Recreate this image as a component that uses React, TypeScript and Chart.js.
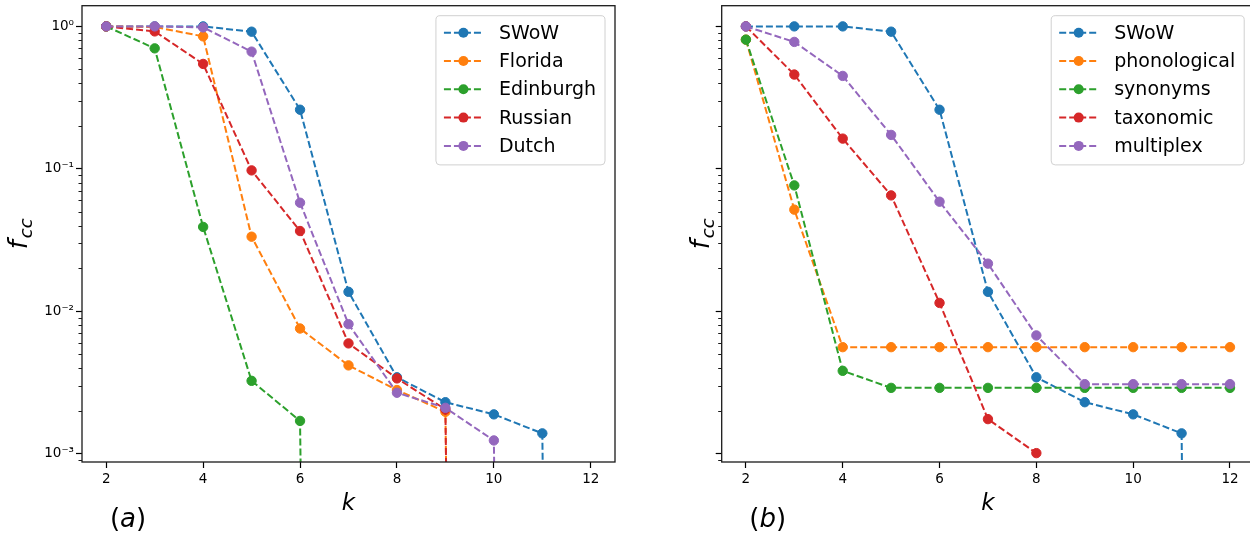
import React, { useEffect, useRef } from "react";
import { Chart, registerables } from "chart.js";

Chart.register(...registerables);

// ---------- data ----------
const K_VALUES = [2, 3, 4, 5, 6, 7, 8, 9, 10, 11, 12];
const X_TICKS = [2, 4, 6, 8, 10, 12];
const Y_DECADES = [0.001, 0.01, 0.1, 1];
const Y_DECADE_LABELS = ["10⁻³", "10⁻²", "10⁻¹", "10⁰"];

// 0 = f_cc dropped to zero (falls off the log axis); null = no point
const SWOW = [1.0, 1.0, 1.0, 0.918, 0.26, 0.0137, 0.00344, 0.0023, 0.00189, 0.00139, 0];
const FLORIDA = [1.0, 0.99, 0.851, 0.0334, 0.00757, 0.00417, 0.0028, 0.00197, 0, null, null];
const EDINBURGH = [1.0, 0.701, 0.0391, 0.00325, 0.0017, 0, null, null, null, null, null];
const RUSSIAN = [1.0, 0.922, 0.545, 0.0975, 0.0366, 0.00595, 0.00338, 0.00205, 0, null, null];
const DUTCH = [1.0, 1.0, 0.984, 0.665, 0.0578, 0.00812, 0.00268, 0.0021, 0.00124, 0, null];

const PHONOLOGICAL = [0.807, 0.0517, 0.0056, 0.0056, 0.0056, 0.0056, 0.0056, 0.0056, 0.0056, 0.0056, 0.0056];
const SYNONYMS = [0.807, 0.0765, 0.00382, 0.0029, 0.0029, 0.0029, 0.0029, 0.0029, 0.0029, 0.0029, 0.0029];
const TAXONOMIC = [1.0, 0.459, 0.163, 0.0651, 0.01145, 0.00175, 0.00101, null, null, null, null];
const MULTIPLEX = [1.0, 0.778, 0.449, 0.173, 0.0588, 0.0216, 0.00677, 0.00308, 0.00308, 0.00308, 0.00308];

const LABELS_A = ["SWoW", "Florida", "Edinburgh", "Russian", "Dutch"];
const LABELS_B = ["SWoW", "phonological", "synonyms", "taxonomic", "multiplex"];
const COLORS = ["#1f77b4", "#ff7f0e", "#2ca02c", "#d62728", "#9467bd"];

// ---------- style ----------
const FONT = "'DejaVu Sans', 'Liberation Sans', sans-serif";
const ZERO_FLOOR = 1e-30;
const Y_MIN = 0.000875;
const Y_MAX = 1.397;
const X_MIN = 1.5;
const X_MAX = 12.5;
const DASH = [7, 3];

type PanelCfg = {
  labels: string[];
  series: (number | null)[][];
  tag: string;
  showYLabels: boolean;
  left: number;
  width: number;
  yAxisWidth: number;
  padRight: number;
  ylabelX: number;
};

const PANEL_A: PanelCfg = {
  labels: LABELS_A,
  series: [SWOW, FLORIDA, EDINBURGH, RUSSIAN, DUTCH],
  tag: "a",
  showYLabels: true,
  left: 0,
  width: 625,
  yAxisWidth: 82,
  padRight: 10,
  ylabelX: 27,
};

const PANEL_B: PanelCfg = {
  labels: LABELS_B,
  series: [SWOW, PHONOLOGICAL, SYNONYMS, TAXONOMIC, MULTIPLEX],
  tag: "b",
  showYLabels: false,
  left: 625,
  width: 640,
  yAxisWidth: 96.7,
  padRight: 10.8,
  ylabelX: 84,
};

function isDecade(v: number | undefined): boolean {
  if (v === undefined || v <= 0) return false;
  const l = Math.log10(v);
  return Math.abs(l - Math.round(l)) < 1e-9;
}

function buildLogTicks(min: number, max: number) {
  const out: { value: number; major: boolean }[] = [];
  for (let e = -5; e <= 1; e++) {
    for (let m = 1; m <= 9; m++) {
      const v = m * Math.pow(10, e);
      if (v >= min && v <= max) out.push({ value: v, major: m === 1 });
    }
  }
  return out;
}

function decadeLabel(v: number): string {
  for (let i = 0; i < Y_DECADES.length; i++) {
    if (Math.abs(Math.log10(v) - Math.log10(Y_DECADES[i])) < 1e-9) return Y_DECADE_LABELS[i];
  }
  return "";
}

function makeDecorPlugin(cfg: PanelCfg) {
  return {
    id: "panelDecor" + cfg.tag,
    afterDraw(chart: any) {
      const ctx: CanvasRenderingContext2D = chart.ctx;
      const area = chart.chartArea;
      const yScale = chart.scales.y;
      ctx.save();

      // minor y ticks
      ctx.strokeStyle = "#000";
      ctx.lineWidth = 0.9;
      for (const t of yScale.ticks) {
        if (isDecade(t.value)) continue;
        const y = Math.round(yScale.getPixelForValue(t.value)) + 0.5;
        ctx.beginPath();
        ctx.moveTo(area.left - 3.5, y);
        ctx.lineTo(area.left, y);
        ctx.stroke();
      }

      // frame
      ctx.strokeStyle = "#1a1a1a";
      ctx.lineWidth = 1.3;
      ctx.strokeRect(area.left, area.top, area.right - area.left, area.bottom - area.top);

      // x title "k"
      ctx.fillStyle = "#000";
      ctx.font = `italic 23px ${FONT}`;
      ctx.textAlign = "center";
      ctx.textBaseline = "alphabetic";
      ctx.fillText("k", (area.left + area.right) / 2, 510);

      // y title f_cc
      ctx.save();
      ctx.translate(cfg.ylabelX, (area.top + area.bottom) / 2);
      ctx.rotate(-Math.PI / 2);
      ctx.textAlign = "left";
      ctx.font = `italic 26px ${FONT}`;
      const fW = ctx.measureText("f").width;
      ctx.font = `italic 18px ${FONT}`;
      const ccW = ctx.measureText("cc").width;
      const total = fW + 2 + ccW;
      const u0 = -total / 2;
      ctx.font = `italic 26px ${FONT}`;
      ctx.fillText("f", u0, 0);
      ctx.font = `italic 18px ${FONT}`;
      ctx.fillText("cc", u0 + fW + 2, 5);
      ctx.restore();

      // panel tag "(a)"
      ctx.textAlign = "left";
      ctx.font = `26px ${FONT}`;
      const pW = ctx.measureText("(").width;
      const cpW = ctx.measureText(")").width;
      ctx.font = `italic 26px ${FONT}`;
      const tW = ctx.measureText(cfg.tag).width;
      const cx = area.left + 46;
      let x = cx - (pW + tW + cpW) / 2;
      ctx.font = `26px ${FONT}`;
      ctx.fillText("(", x, 527);
      x += pW;
      ctx.font = `italic 26px ${FONT}`;
      ctx.fillText(cfg.tag, x, 527);
      x += tW;
      ctx.font = `26px ${FONT}`;
      ctx.fillText(")", x, 527);

      // legend
      const datasets = chart.data.datasets;
      ctx.font = `19px ${FONT}`;
      let textW = 0;
      for (const d of datasets) textW = Math.max(textW, ctx.measureText(d.label).width);
      const boxW = 8 + 39 + 16 + textW + 9;
      const rowH = 28.3;
      const boxH = 17 + rowH * (datasets.length - 1) + 19;
      const boxR = area.right - 10;
      const boxT = area.top + 10;
      const boxL = boxR - boxW;
      const r = 4;
      ctx.beginPath();
      ctx.moveTo(boxL + r, boxT);
      ctx.lineTo(boxR - r, boxT);
      ctx.quadraticCurveTo(boxR, boxT, boxR, boxT + r);
      ctx.lineTo(boxR, boxT + boxH - r);
      ctx.quadraticCurveTo(boxR, boxT + boxH, boxR - r, boxT + boxH);
      ctx.lineTo(boxL + r, boxT + boxH);
      ctx.quadraticCurveTo(boxL, boxT + boxH, boxL, boxT + boxH - r);
      ctx.lineTo(boxL, boxT + r);
      ctx.quadraticCurveTo(boxL, boxT, boxL + r, boxT);
      ctx.closePath();
      ctx.fillStyle = "rgba(255,255,255,0.8)";
      ctx.fill();
      ctx.strokeStyle = "#d0d0d0";
      ctx.lineWidth = 1;
      ctx.stroke();

      datasets.forEach((d: any, i: number) => {
        const y = boxT + 17 + i * rowH;
        const x0 = boxL + 8;
        ctx.strokeStyle = d.borderColor;
        ctx.lineWidth = 2;
        ctx.setLineDash(DASH);
        ctx.beginPath();
        ctx.moveTo(x0, y);
        ctx.lineTo(x0 + 39, y);
        ctx.stroke();
        ctx.setLineDash([]);
        ctx.fillStyle = d.borderColor;
        ctx.beginPath();
        ctx.arc(x0 + 19.5, y, 5, 0, Math.PI * 2);
        ctx.fill();
        ctx.fillStyle = "#000";
        ctx.font = `19px ${FONT}`;
        ctx.textBaseline = "middle";
        ctx.textAlign = "left";
        ctx.fillText(d.label, x0 + 39 + 16, y + 1);
      });

      ctx.restore();
    },
  };
}

function Panel({ cfg }: { cfg: PanelCfg }) {
  const ref = useRef<HTMLCanvasElement>(null);

  useEffect(() => {
    if (!ref.current) return;
    const n = cfg.series.length;
    const datasets = cfg.series.map((vals, i) => ({
      label: cfg.labels[i],
      data: K_VALUES.map((k, j) => {
        const v = vals[j];
        if (v === null || v === undefined) return null;
        return { x: k, y: v === 0 ? ZERO_FLOOR : v };
      }).filter((p) => p !== null),
      borderColor: COLORS[i],
      backgroundColor: COLORS[i],
      borderWidth: 2,
      borderDash: DASH,
      pointRadius: 4.7,
      pointHoverRadius: 4.7,
      pointBorderWidth: 1,
      pointBackgroundColor: COLORS[i],
      pointBorderColor: COLORS[i],
      tension: 0,
      fill: false,
      order: n - i,
    }));

    const chart = new Chart(ref.current, {
      type: "line",
      data: { datasets: datasets as any },
      options: {
        responsive: false,
        animation: false,
        events: [],
        layout: { padding: { left: 0, top: 5, right: cfg.padRight, bottom: 0 } },
        plugins: {
          legend: { display: false },
          tooltip: { enabled: false },
          title: { display: false },
        },
        scales: {
          x: {
            type: "linear",
            min: X_MIN,
            max: X_MAX,
            afterBuildTicks: (s: any) => {
              s.ticks = X_TICKS.map((v) => ({ value: v }));
            },
            afterFit: (s: any) => {
              s.height = 76;
              s.paddingLeft = 0;
              s.paddingRight = 0;
            },
            ticks: {
              autoSkip: false,
              maxRotation: 0,
              minRotation: 0,
              padding: 3,
              color: "#000",
              font: { family: FONT, size: 13.5 },
              callback: (v: any) => String(v),
            },
            grid: {
              display: true,
              drawOnChartArea: false,
              drawTicks: true,
              tickLength: 6,
              tickColor: "#000",
              tickWidth: 1.2,
            },
            border: { display: false },
          },
          y: {
            type: "logarithmic",
            min: Y_MIN,
            max: Y_MAX,
            afterBuildTicks: (s: any) => {
              s.ticks = buildLogTicks(Y_MIN, Y_MAX);
            },
            afterFit: (s: any) => {
              s.width = cfg.yAxisWidth;
              s.paddingTop = 0;
              s.paddingBottom = 0;
            },
            ticks: {
              autoSkip: false,
              padding: 2,
              color: "#000",
              font: { family: FONT, size: 13.5 },
              callback: (v: any) => (cfg.showYLabels ? decadeLabel(Number(v)) : ""),
            },
            grid: {
              display: true,
              drawOnChartArea: false,
              drawTicks: true,
              tickLength: 6,
              tickColor: (ctx: any) => (isDecade(ctx.tick?.value) ? "#000" : "rgba(0,0,0,0)"),
              tickWidth: 1.2,
            },
            border: { display: false },
          },
        },
      } as any,
      plugins: [makeDecorPlugin(cfg)],
    });

    return () => chart.destroy();
  }, [cfg]);

  return (
    <canvas
      ref={ref}
      width={cfg.width}
      height={538}
      style={{ position: "absolute", left: cfg.left, top: 0, width: cfg.width, height: 538 }}
    />
  );
}

export default function App() {
  return (
    <div
      style={{
        position: "fixed",
        left: 0,
        top: 0,
        width: 1250,
        height: 538,
        overflow: "hidden",
        background: "#fff",
      }}
    >
      <Panel cfg={PANEL_A} />
      <Panel cfg={PANEL_B} />
    </div>
  );
}
